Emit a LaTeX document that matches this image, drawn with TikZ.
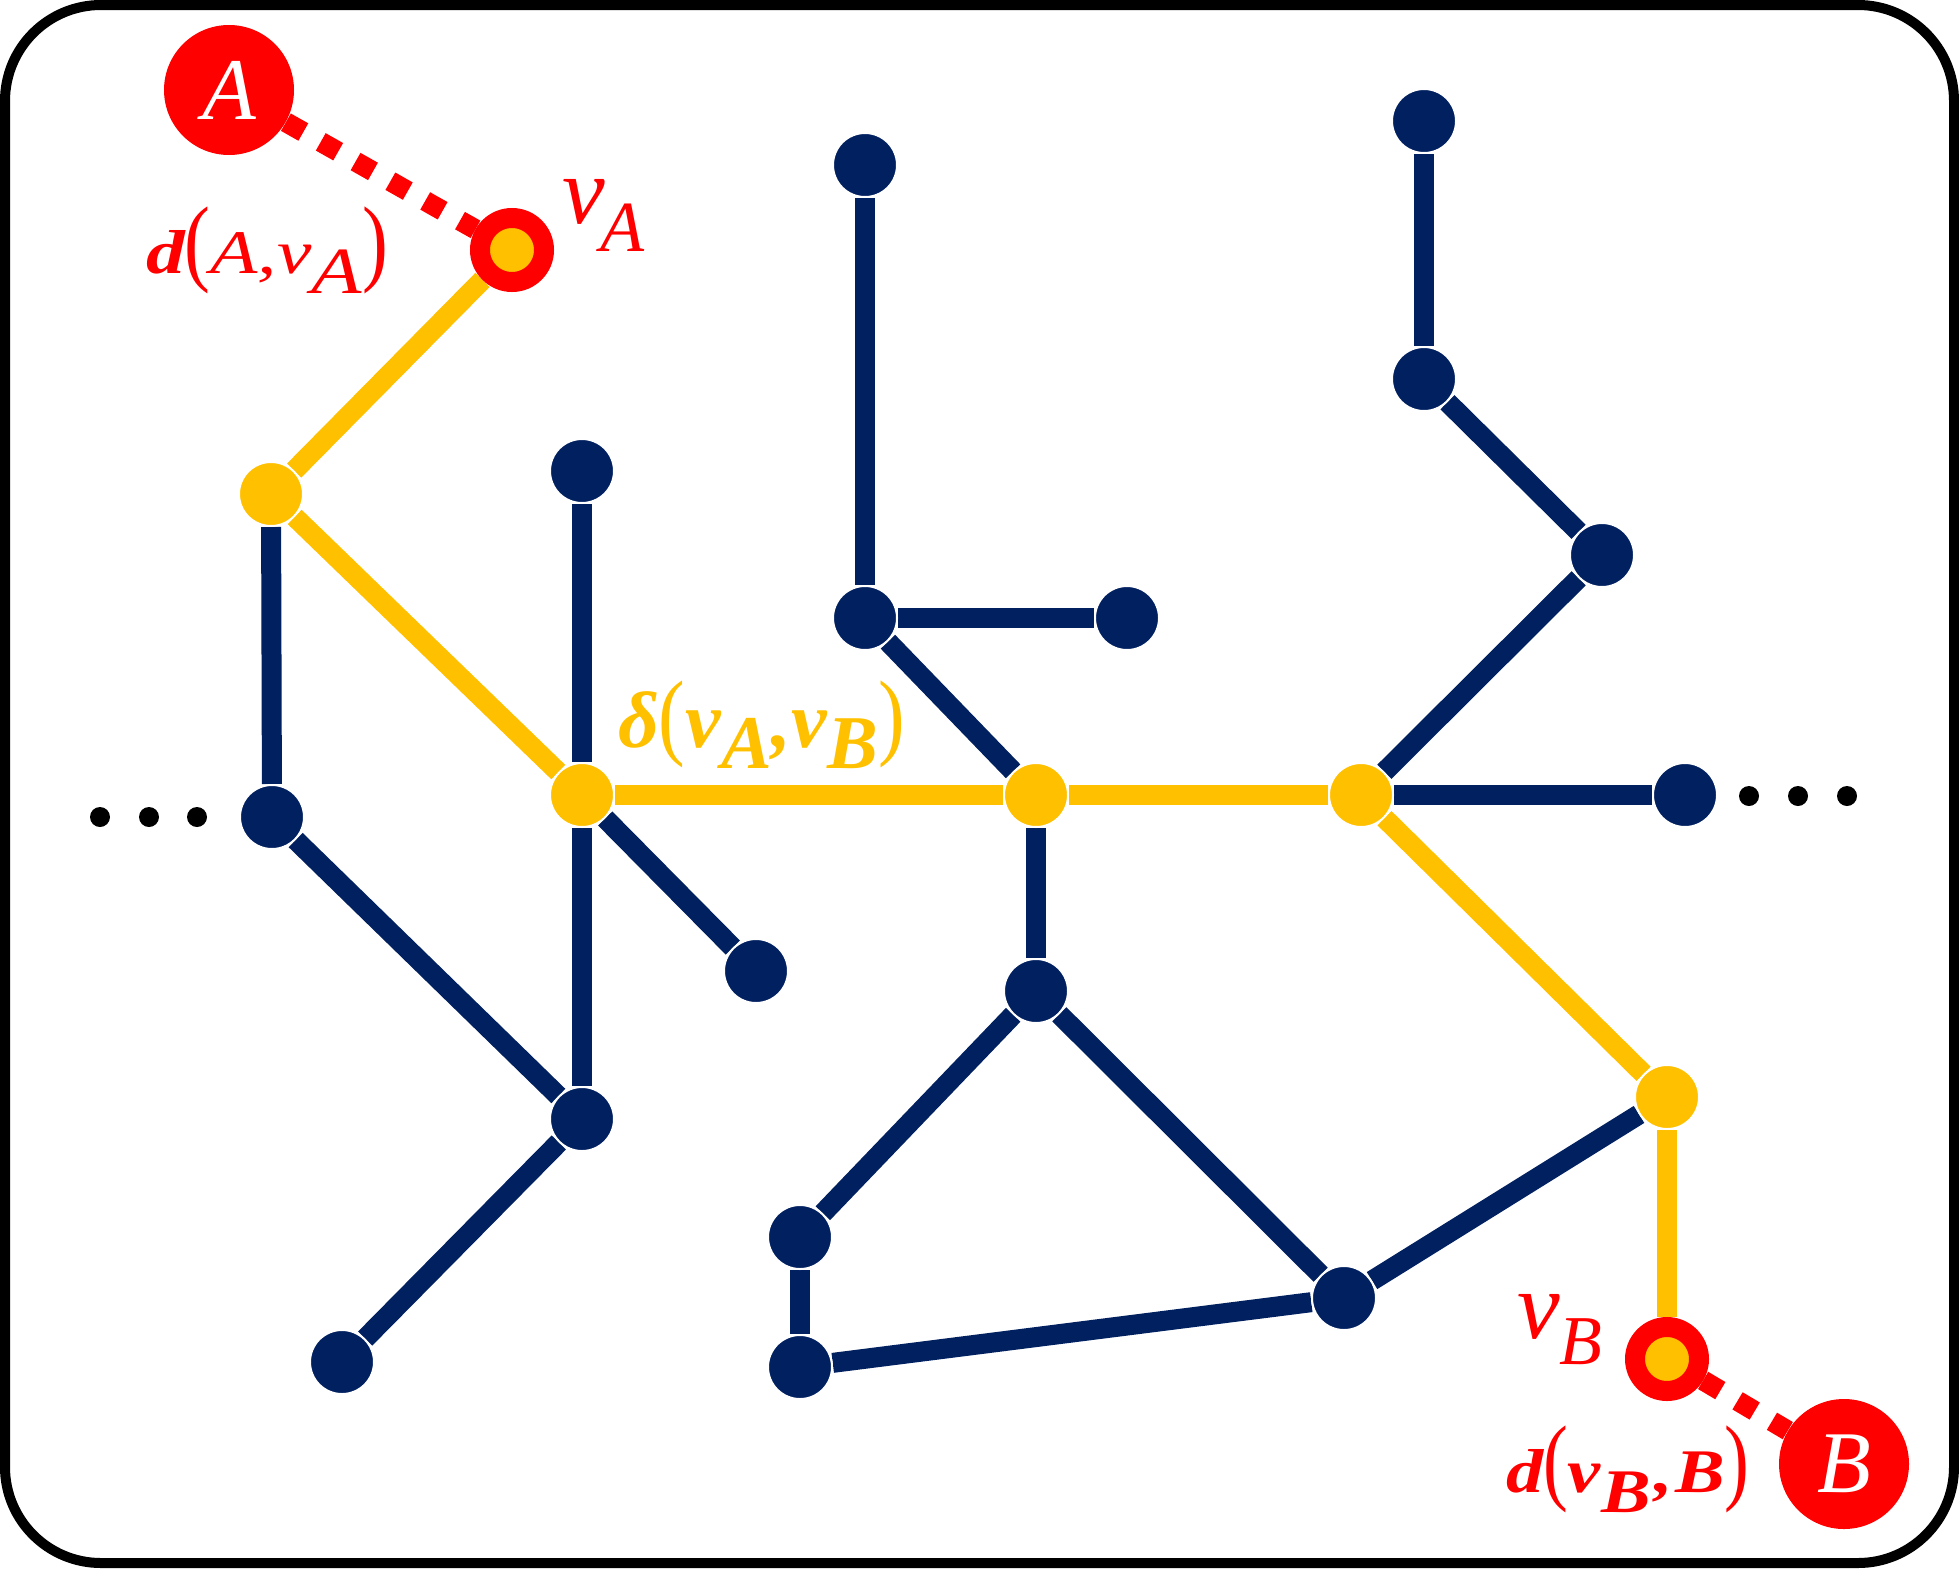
\documentclass[tikz,border=0pt]{standalone}
\usepackage{fontspec}
\setmainfont{Liberation Serif}
\usetikzlibrary{backgrounds}
\definecolor{navy}{HTML}{002060}
\definecolor{gold}{HTML}{FFC000}
\definecolor{rd}{HTML}{FF0000}
\tikzset{
 dnode/.style={circle, fill=navy, draw=white, line width=1pt, minimum size=32pt, inner sep=0pt},
 ynode/.style={dnode, fill=gold},
 ringnode/.style={circle, fill=gold, draw=rd, line width=10pt, minimum size=32pt, inner sep=0pt},
 bignode/.style={circle, fill=rd, minimum size=65pt, inner sep=0pt, text=white, font=\fontsize{44}{44}\selectfont\itshape},
 dedge/.style={draw=navy, line width=10pt},
 yedge/.style={draw=gold, line width=10pt},
 redge/.style={draw=rd, line width=10pt, dash pattern=on 10pt off 10pt},
 dotnode/.style={circle, fill=black, minimum size=10pt, inner sep=0pt},
 lbl/.style={anchor=base west, inner sep=0pt, outer sep=0pt},
}
\begin{document}
\begin{tikzpicture}[x=0.5pt,y=-0.5pt]
\useasboundingbox (0,0) rectangle (1959,1574);
\draw[line width=5pt, rounded corners=48pt] (5,5) rectangle (1954,1563);
% dark nodes
\node[dnode] (n1) at (865,165) {};
\node[dnode] (n2) at (865,618) {};
\node[dnode] (n3) at (1127,618) {};
\node[dnode] (n4) at (1424,121) {};
\node[dnode] (n5) at (1424,379) {};
\node[dnode] (n6) at (1602,555) {};
\node[dnode] (n7) at (1685,795) {};
\node[dnode] (n8) at (582,471) {};
\node[dnode] (n9) at (272,817) {};
\node[dnode] (n10) at (756,971) {};
\node[dnode] (n11) at (582,1119) {};
\node[dnode] (n12) at (342,1362) {};
\node[dnode] (n13) at (1036,991) {};
\node[dnode] (n14) at (800,1237) {};
\node[dnode] (n15) at (800,1367) {};
\node[dnode] (n16) at (1344,1298) {};
% yellow nodes
\node[ynode] (y1) at (271,494) {};
\node[ynode] (y2) at (582,795) {};
\node[ynode] (y3) at (1036,795) {};
\node[ynode] (y4) at (1361,795) {};
\node[ynode] (y5) at (1667,1097) {};
% end points
\node[ringnode] (va) at (512,250) {};
\node[ringnode] (vb) at (1667,1359) {};
\node[bignode] (A) at (229,90) {A};
\node[bignode] (B) at (1844,1464) {B};
% dots
\node[dotnode] (dl1) at (100,817) {};
\node[dotnode] (dl2) at (149,817) {};
\node[dotnode] (dl3) at (197,817) {};
\node[dotnode] (dr1) at (1749,796) {};
\node[dotnode] (dr2) at (1798,796) {};
\node[dotnode] (dr3) at (1847,796) {};
% edges
\begin{scope}[on background layer]
\draw[dedge] (n1) -- (n2);
\draw[dedge] (n2) -- (n3);
\draw[dedge] (n2) -- (y3);
\draw[dedge] (n4) -- (n5);
\draw[dedge] (n5) -- (n6);
\draw[dedge] (n6) -- (y4);
\draw[dedge] (y4) -- (n7);
\draw[dedge] (n8) -- (y2);
\draw[dedge] (y2) -- (n11);
\draw[dedge] (y2) -- (n10);
\draw[dedge] (y1) -- (n9);
\draw[dedge] (n9) -- (n11);
\draw[dedge] (n11) -- (n12);
\draw[dedge] (y3) -- (n13);
\draw[dedge] (n13) -- (n14);
\draw[dedge] (n14) -- (n15);
\draw[dedge] (n15) -- (n16);
\draw[dedge] (n13) -- (n16);
\draw[dedge] (n16) -- (y5);
\draw[yedge] (va) -- (y1);
\draw[yedge] (y1) -- (y2);
\draw[yedge] (y2) -- (y3);
\draw[yedge] (y3) -- (y4);
\draw[yedge] (y4) -- (y5);
\draw[yedge] (y5) -- (vb);
\draw[redge] (A) -- (va);
\draw[redge] (vb) -- (B);
\end{scope}
% labels
\node[lbl, text=rd] (lva) at (562,223) {\fontsize{48}{48}\selectfont\itshape v\kern-2pt\raisebox{-14pt}{\fontsize{36}{36}\selectfont A}};
\node[lbl, text=rd] (lvb) at (1517,1338) {\fontsize{48}{48}\selectfont\itshape v\raisebox{-13pt}{\fontsize{35}{35}\selectfont B}};
\node[lbl, text=rd] (lda) at (146,273) {\scalebox{1.25}[1]{\fontsize{31}{31}\selectfont\itshape{\bfseries d}\upshape\scalebox{1}[1.55]{(}\itshape A,v\raisebox{-10pt}{\fontsize{33}{33}\selectfont A}\upshape\scalebox{1}[1.55]{)}}};
\node[lbl, text=rd] (ldb) at (1506,1492) {\scalebox{1.2}[1]{\fontsize{31}{31}\selectfont\bfseries\itshape d\upshape\mdseries\scalebox{1}[1.55]{(}\bfseries\itshape v\raisebox{-10pt}{B}\kern1.5pt,\kern1pt B\upshape\mdseries\scalebox{1}[1.55]{)}}};
\node[lbl, text=gold] (ldelta) at (618,747) {\fontsize{40}{40}\selectfont\bfseries\itshape δ\upshape\mdseries\scalebox{1}[1.2]{(}\bfseries\itshape v\raisebox{-10.5pt}{\fontsize{38}{38}\selectfont A},v\raisebox{-10.5pt}{\fontsize{38}{38}\selectfont B}\upshape\mdseries\scalebox{1}[1.2]{)}};
\end{tikzpicture}
\end{document}
